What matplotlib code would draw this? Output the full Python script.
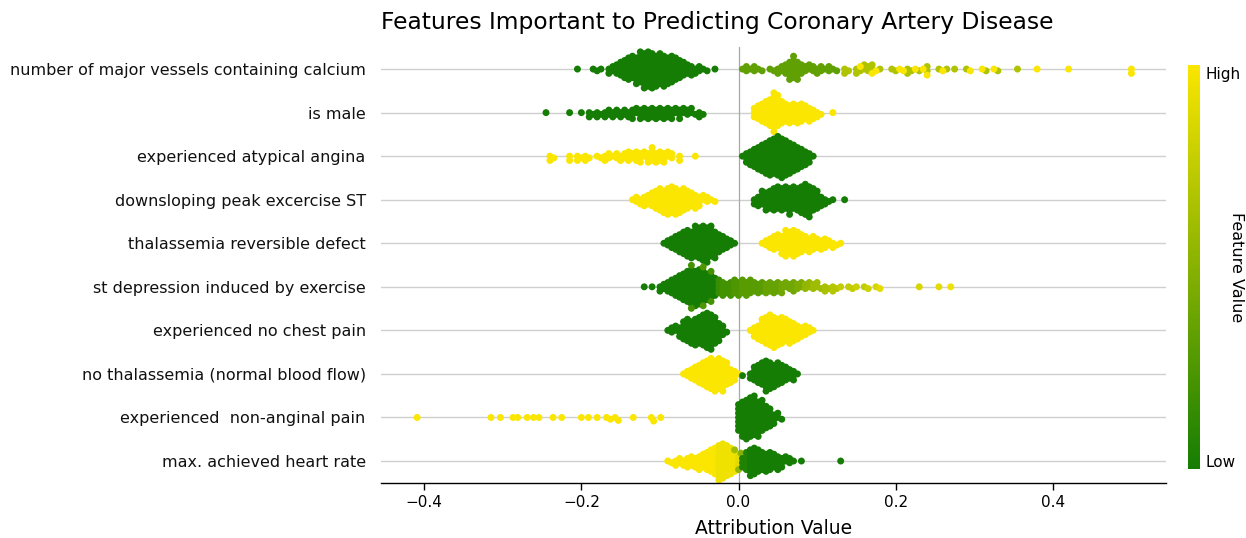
import numpy as np
import matplotlib
matplotlib.use("Agg")
import matplotlib.pyplot as plt
from matplotlib.colors import LinearSegmentedColormap
from matplotlib.cm import ScalarMappable

plt.rcParams['font.family'] = ['DejaVu Sans']

features = [
    "number of major vessels containing calcium",
    "is male",
    "experienced atypical angina",
    "downsloping peak excercise ST",
    "thalassemia reversible defect",
    "st depression induced by exercise",
    "experienced no chest pain",
    "no thalassemia (normal blood flow)",
    "experienced  non-anginal pain",
    "max. achieved heart rate",
]

# (attribution value, number of patients near that value, feature value 0..1)
vessels = [
    (-0.205, 1, 0), (-0.185, 1, 0), (-0.18, 1, 0), (-0.175, 1, 0), (-0.165, 2, 0), (-0.16, 2, 0),
    (-0.155, 3, 0), (-0.15, 4, 0), (-0.145, 5, 0), (-0.14, 6, 0), (-0.135, 6, 0), (-0.13, 7, 0),
    (-0.125, 8, 0), (-0.12, 9, 0), (-0.115, 9, 0), (-0.11, 9, 0), (-0.105, 8, 0), (-0.1, 8, 0),
    (-0.095, 8, 0), (-0.09, 7, 0), (-0.085, 7, 0), (-0.08, 6, 0), (-0.075, 5, 0), (-0.07, 4, 0),
    (-0.065, 3, 0), (-0.06, 3, 0), (-0.055, 2, 0), (-0.05, 2, 0), (-0.045, 1, 0), (-0.04, 1, 0),
    (-0.03, 1, 0),
    (0.005, 1, 0.33), (0.01, 2, 0.33), (0.015, 1, 0.33), (0.02, 2, 0.33), (0.025, 1, 0.33),
    (0.03, 1, 0.33), (0.04, 1, 0.33), (0.045, 1, 0.33), (0.05, 2, 0.33), (0.055, 2, 0.33),
    (0.06, 3, 0.33), (0.065, 5, 0.33), (0.07, 6, 0.33), (0.075, 5, 0.33), (0.08, 3, 0.33),
    (0.085, 2, 0.33), (0.09, 2, 0.33), (0.095, 2, 0.33), (0.1, 2, 0.33), (0.105, 2, 0.33),
    (0.11, 1, 0.33), (0.115, 2, 0.33), (0.12, 1, 0.33), (0.125, 1, 0.33),
    (0.135, 2, 0.67), (0.14, 1, 0.67), (0.15, 2, 0.67), (0.155, 1, 0.67), (0.16, 2, 0.67),
    (0.165, 2, 0.67), (0.17, 2, 0.67), (0.18, 1, 0.67), (0.195, 1, 0.67), (0.2, 1, 0.67),
    (0.215, 2, 0.67), (0.22, 1, 0.67), (0.23, 1, 0.67), (0.24, 2, 0.67), (0.255, 1, 0.67),
    (0.265, 1, 0.67), (0.275, 1, 0.67), (0.29, 1, 0.67), (0.315, 1, 0.67), (0.33, 1, 0.67),
    (0.355, 1, 0.67),
    (0.155, 1, 1), (0.17, 1, 1), (0.175, 1, 1), (0.205, 1, 1), (0.21, 1, 1), (0.225, 1, 1),
    (0.235, 1, 1), (0.24, 1, 1), (0.26, 1, 1), (0.295, 1, 1), (0.31, 1, 1), (0.325, 1, 1),
    (0.38, 1, 1), (0.42, 1, 1), (0.5, 2, 1),
]
male = [
    (-0.245, 1, 0), (-0.215, 1, 0), (-0.2, 1, 0), (-0.19, 2, 0), (-0.185, 1, 0), (-0.18, 2, 0),
    (-0.175, 1, 0), (-0.17, 2, 0), (-0.165, 2, 0), (-0.16, 2, 0), (-0.155, 2, 0), (-0.15, 2, 0),
    (-0.145, 2, 0), (-0.14, 2, 0), (-0.135, 3, 0), (-0.13, 2, 0), (-0.125, 3, 0), (-0.12, 3, 0),
    (-0.115, 3, 0), (-0.11, 3, 0), (-0.105, 3, 0), (-0.1, 3, 0), (-0.095, 3, 0), (-0.09, 3, 0),
    (-0.085, 3, 0), (-0.08, 2, 0), (-0.075, 3, 0), (-0.07, 2, 0), (-0.065, 2, 0), (-0.06, 2, 0),
    (-0.055, 1, 0), (-0.05, 2, 0), (-0.045, 1, 0),
    (0.02, 3, 1), (0.025, 4, 1), (0.03, 5, 1), (0.035, 6, 1), (0.04, 7, 1), (0.045, 10, 1),
    (0.05, 8, 1), (0.055, 6, 1), (0.06, 5, 1), (0.065, 5, 1), (0.07, 5, 1), (0.075, 5, 1),
    (0.08, 5, 1), (0.085, 4, 1), (0.09, 4, 1), (0.095, 3, 1), (0.1, 2, 1), (0.105, 1, 1),
    (0.12, 1, 1),
]
atypical = [
    (-0.24, 2, 1), (-0.235, 1, 1), (-0.215, 2, 1), (-0.205, 2, 1), (-0.2, 1, 1), (-0.195, 2, 1),
    (-0.19, 1, 1), (-0.18, 1, 1), (-0.175, 1, 1), (-0.17, 2, 1), (-0.165, 2, 1), (-0.16, 1, 1),
    (-0.155, 2, 1), (-0.15, 2, 1), (-0.145, 2, 1), (-0.14, 3, 1), (-0.135, 2, 1), (-0.13, 3, 1),
    (-0.125, 3, 1), (-0.12, 2, 1), (-0.115, 3, 1), (-0.11, 4, 1), (-0.105, 3, 1), (-0.1, 3, 1),
    (-0.095, 3, 1), (-0.09, 2, 1), (-0.085, 2, 1), (-0.075, 2, 1), (-0.055, 1, 1),
    (0.005, 1, 0), (0.01, 3, 0), (0.015, 4, 0), (0.02, 5, 0), (0.025, 6, 0), (0.03, 7, 0),
    (0.035, 8, 0), (0.04, 9, 0), (0.045, 9, 0), (0.05, 10, 0), (0.055, 10, 0), (0.06, 9, 0),
    (0.065, 8, 0), (0.07, 7, 0), (0.075, 6, 0), (0.08, 5, 0), (0.085, 4, 0), (0.09, 3, 0),
    (0.095, 1, 0),
]
downsloping = [
    (-0.135, 1, 1), (-0.13, 2, 1), (-0.125, 2, 1), (-0.12, 3, 1), (-0.115, 3, 1), (-0.11, 4, 1),
    (-0.105, 5, 1), (-0.1, 6, 1), (-0.095, 6, 1), (-0.09, 7, 1), (-0.085, 7, 1), (-0.08, 7, 1),
    (-0.075, 6, 1), (-0.07, 6, 1), (-0.065, 5, 1), (-0.06, 4, 1), (-0.055, 4, 1), (-0.05, 3, 1),
    (-0.045, 2, 1), (-0.04, 2, 1), (-0.035, 1, 1), (-0.03, 1, 1),
    (0.02, 2, 0), (0.025, 3, 0), (0.03, 4, 0), (0.035, 5, 0), (0.04, 5, 0), (0.045, 6, 0),
    (0.05, 6, 0), (0.055, 6, 0), (0.06, 6, 0), (0.065, 7, 0), (0.07, 6, 0), (0.075, 6, 0),
    (0.08, 7, 0), (0.085, 8, 0), (0.09, 8, 0), (0.095, 6, 0), (0.1, 5, 0), (0.105, 3, 0),
    (0.11, 2, 0), (0.115, 1, 0), (0.12, 1, 0), (0.135, 1, 0),
]
thal_rev = [
    (-0.095, 1, 0), (-0.09, 2, 0), (-0.085, 3, 0), (-0.08, 4, 0), (-0.075, 5, 0), (-0.07, 6, 0),
    (-0.065, 7, 0), (-0.06, 7, 0), (-0.055, 8, 0), (-0.05, 8, 0), (-0.045, 9, 0), (-0.04, 9, 0),
    (-0.035, 8, 0), (-0.03, 7, 0), (-0.025, 5, 0), (-0.02, 4, 0), (-0.015, 3, 0), (-0.01, 2, 0),
    (-0.005, 1, 0),
    (0.03, 1, 1), (0.035, 2, 1), (0.04, 3, 1), (0.045, 4, 1), (0.05, 4, 1), (0.055, 5, 1),
    (0.06, 7, 1), (0.065, 6, 1), (0.07, 7, 1), (0.075, 6, 1), (0.08, 5, 1), (0.085, 4, 1),
    (0.09, 4, 1), (0.095, 4, 1), (0.1, 3, 1), (0.105, 3, 1), (0.11, 3, 1), (0.115, 2, 1),
    (0.12, 2, 1), (0.125, 1, 1), (0.13, 1, 1),
]
st_dep = [
    (-0.12, 1, 0), (-0.11, 1, 0), (-0.1, 2, 0), (-0.095, 2, 0), (-0.09, 3, 0), (-0.085, 4, 0),
    (-0.08, 5, 0), (-0.075, 6, 0), (-0.07, 7, 0), (-0.065, 8, 0), (-0.06, 9, 0), (-0.055, 9, 0),
    (-0.05, 9, 0), (-0.045, 8, 0), (-0.04, 7, 0), (-0.035, 6, 0), (-0.03, 5, 0),
    (-0.06, 2, 0.2), (-0.045, 2, 0.25), (-0.035, 2, 0.2),
    (-0.025, 4, 0.15), (-0.02, 4, 0.2), (-0.015, 3, 0.2), (-0.01, 4, 0.2), (-0.005, 4, 0.25),
    (0.0, 4, 0.25), (0.005, 4, 0.3), (0.01, 4, 0.3), (0.015, 4, 0.3), (0.02, 3, 0.3),
    (0.025, 3, 0.3), (0.03, 3, 0.3), (0.035, 3, 0.35), (0.04, 3, 0.35), (0.045, 3, 0.35),
    (0.05, 3, 0.35), (0.055, 3, 0.4), (0.06, 2, 0.4), (0.065, 2, 0.4), (0.07, 3, 0.4),
    (0.075, 2, 0.45), (0.08, 2, 0.45), (0.085, 2, 0.55), (0.09, 2, 0.55), (0.095, 2, 0.6),
    (0.1, 2, 0.6), (0.105, 1, 0.6), (0.11, 2, 0.65), (0.115, 1, 0.65), (0.12, 2, 0.7),
    (0.125, 1, 0.7), (0.13, 1, 0.75), (0.14, 1, 0.75), (0.145, 1, 0.75), (0.15, 1, 0.8),
    (0.16, 1, 0.75), (0.165, 1, 0.8), (0.175, 1, 0.85), (0.18, 1, 0.9), (0.23, 1, 0.85),
    (0.255, 1, 0.9), (0.27, 1, 0.95),
]
no_chest = [
    (-0.09, 1, 0), (-0.085, 2, 0), (-0.08, 2, 0), (-0.075, 3, 0), (-0.07, 5, 0), (-0.065, 6, 0),
    (-0.06, 6, 0), (-0.055, 7, 0), (-0.05, 7, 0), (-0.045, 8, 0), (-0.04, 9, 0), (-0.035, 9, 0),
    (-0.03, 7, 0), (-0.025, 5, 0), (-0.02, 3, 0), (-0.015, 1, 0),
    (0.015, 1, 1), (0.02, 3, 1), (0.025, 4, 1), (0.03, 6, 1), (0.035, 7, 1), (0.04, 8, 1),
    (0.045, 8, 1), (0.05, 7, 1), (0.055, 7, 1), (0.06, 6, 1), (0.065, 6, 1), (0.07, 5, 1),
    (0.075, 4, 1), (0.08, 3, 1), (0.085, 3, 1), (0.09, 2, 1), (0.095, 1, 1),
]
no_thal = [
    (-0.07, 1, 1), (-0.065, 2, 1), (-0.06, 3, 1), (-0.055, 4, 1), (-0.05, 5, 1), (-0.045, 6, 1),
    (-0.04, 7, 1), (-0.035, 8, 1), (-0.03, 8, 1), (-0.025, 8, 1), (-0.02, 8, 1), (-0.015, 6, 1),
    (-0.01, 4, 1), (-0.005, 3, 1), (0.0, 1, 1),
    (0.005, 1, 0), (0.015, 2, 0), (0.02, 4, 0), (0.025, 5, 0), (0.03, 6, 0), (0.035, 8, 0),
    (0.04, 7, 0), (0.045, 6, 0), (0.05, 6, 0), (0.055, 5, 0), (0.06, 4, 0), (0.065, 3, 0),
    (0.07, 3, 0), (0.075, 1, 0),
]
non_anginal = [
    (-0.409, 1, 1), (-0.315, 1, 1), (-0.303, 1, 1), (-0.287, 1, 1), (-0.281, 1, 1),
    (-0.269, 1, 1), (-0.261, 1, 1), (-0.254, 1, 1), (-0.236, 1, 1), (-0.225, 1, 1),
    (-0.2, 1, 1), (-0.191, 1, 1), (-0.18, 1, 1), (-0.168, 1, 1), (-0.163, 1, 1),
    (-0.157, 1, 1), (-0.153, 1, 1), (-0.134, 1, 1), (-0.111, 1, 1), (-0.108, 1, 1),
    (-0.099, 1, 1),
    (0.0, 7, 0), (0.005, 9, 0), (0.01, 10, 0), (0.015, 10, 0), (0.02, 10, 0), (0.025, 9, 0),
    (0.03, 8, 0), (0.035, 6, 0), (0.04, 5, 0), (0.045, 3, 0), (0.05, 2, 0), (0.055, 1, 0),
]
heart_rate = [
    (-0.09, 1, 1), (-0.085, 1, 1), (-0.08, 2, 1), (-0.075, 2, 1), (-0.07, 2, 1), (-0.065, 3, 1),
    (-0.06, 3, 1), (-0.055, 3, 1), (-0.05, 4, 1), (-0.045, 4, 1), (-0.04, 5, 1), (-0.035, 6, 1),
    (-0.03, 7, 1), (-0.025, 9, 0.95), (-0.02, 9, 0.95), (-0.015, 8, 0.95), (-0.01, 7, 0.95),
    (-0.005, 5, 0.95), (0.0, 3, 0.9),
    (-0.005, 1, 0.6), (0.0, 1, 0.55), (0.003, 1, 0.5),
    (0.005, 3, 0.05), (0.01, 5, 0.05), (0.015, 7, 0), (0.02, 7, 0), (0.025, 6, 0), (0.03, 5, 0),
    (0.035, 5, 0), (0.04, 5, 0), (0.045, 4, 0), (0.05, 4, 0), (0.055, 3, 0), (0.06, 2, 0),
    (0.065, 2, 0), (0.07, 1, 0), (0.08, 1, 0), (0.13, 1, 0),
]

rows = [vessels, male, atypical, downsloping, thal_rev, st_dep, no_chest, no_thal,
        non_anginal, heart_rate]

x_ticks = [-0.4, -0.2, 0.0, 0.2, 0.4]


def swarm_offsets(xp, gap):
    # greedy beeswarm in pixel units: each dot goes as close to the line as it can
    ys = np.zeros(len(xp))
    px, py = [], []
    for i in np.argsort(xp, kind='stable'):
        x = xp[i]
        ax_ = np.array(px)
        ay_ = np.array(py)
        near = np.abs(ax_ - x) < gap if len(px) else np.array([], dtype=bool)
        cand = [0.0]
        if near.any():
            dy = np.sqrt(gap ** 2 - (ax_[near] - x) ** 2)
            cand += list(ay_[near] + dy) + list(ay_[near] - dy)
        cand.sort(key=abs)
        best = cand[0]
        for y in cand:
            if not near.any() or np.all((ax_[near] - x) ** 2 + (ay_[near] - y) ** 2 >= gap ** 2 - 1e-6):
                best = y
                break
        ys[i] = best
        px.append(x)
        py.append(best)
    return ys


cmap = LinearSegmentedColormap.from_list('gy', ['#157d03', '#fae600'])

W, H = 1246, 538
fig = plt.figure(figsize=(W / 100, H / 100), dpi=100)
ax = fig.add_axes([381 / W, (H - 482.8) / H, 785 / W, 435.5 / H])
xmin, xmax = -0.455, 0.544
ax.set_xlim(xmin, xmax)
ax.set_ylim(len(features) - 0.5, -0.5)

sx = 785 / (xmax - xmin)
sy = 435.5 / len(features)

for i in range(len(features)):
    ax.axhline(i, color='#cfcfcf', lw=1.0, zorder=0)
ax.axvline(0, color='#a8a8a8', lw=0.9, zorder=0.5)

for i, row in enumerate(rows):
    xs = np.concatenate([[v] * n for v, n, f in row])
    fv = np.concatenate([[f] * n for v, n, f in row])
    off = swarm_offsets(xs * sx, 4.3)
    ax.scatter(xs, i + off / sy, c=fv, cmap=cmap, vmin=0, vmax=1, s=25,
               linewidths=0, zorder=2)

ax.set_yticks(range(len(features)))
ax.set_yticklabels(features, fontsize=11.5, color='#111111')
ax.tick_params(axis='y', length=0, pad=11)
ax.set_xticks(x_ticks)
ax.set_xticklabels([f'{t:.1f}'.replace('-', '\u2212') for t in x_ticks], fontsize=11)
ax.tick_params(axis='x', length=5, width=1, pad=4)
for s in ['top', 'right', 'left']:
    ax.spines[s].set_visible(False)
ax.spines['bottom'].set_linewidth(1)
ax.set_xlabel('Attribution Value', fontsize=13.5, labelpad=6)
ax.set_title('Features Important to Predicting Coronary Artery Disease',
             fontsize=16.8, loc='left', pad=13)

cax = fig.add_axes([1188 / W, (H - 469) / H, 12 / W, 404 / H])
cb = fig.colorbar(ScalarMappable(cmap=cmap), cax=cax)
cb.outline.set_visible(False)
cb.set_ticks([0.02, 0.98])
cb.set_ticklabels(['Low', 'High'])
cax.tick_params(length=0, pad=4, labelsize=11)
fig.text(1237 / W, 1 - 267 / H, 'Feature Value', rotation=270, ha='center', va='center',
         fontsize=11.5)

fig.savefig('out.png', dpi=100)
